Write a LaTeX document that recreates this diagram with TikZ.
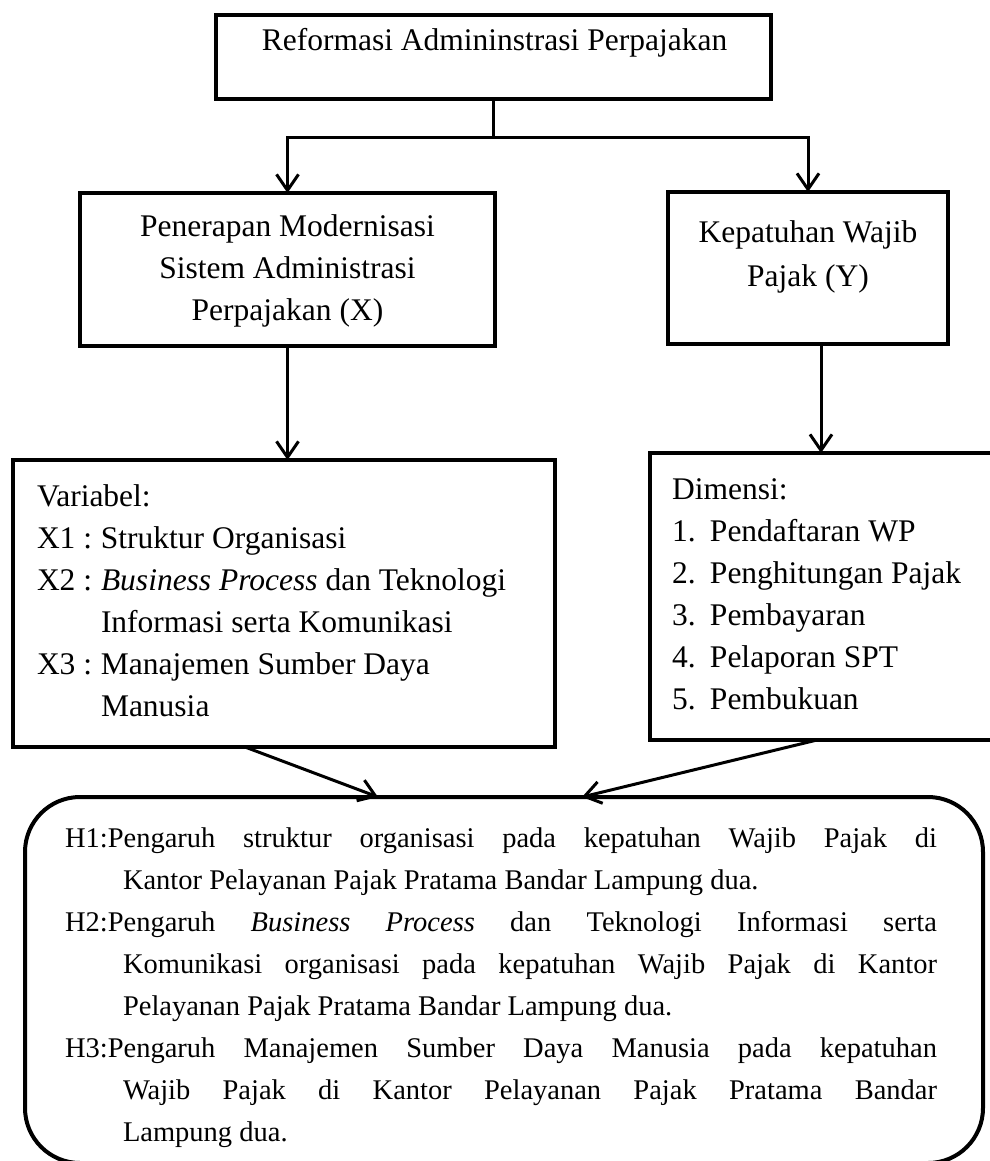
\documentclass[tikz,border=0pt]{standalone}
\usepackage{fontspec}
\setmainfont{Liberation Serif}
\usetikzlibrary{arrows.meta}
\begin{document}
\begin{tikzpicture}[x=1pt,y=-1pt,
  box/.style={draw, line width=4pt, inner sep=0pt, outer sep=0pt, rectangle},
  conn/.style={line width=3pt},
  arr/.style={line width=3pt, -{Straight Barb[length=16pt,width=22pt]}},
  txt/.style={inner sep=0pt, outer sep=0pt},
  fa/.style={font=\fontsize{31.5}{42}\selectfont},
  fb/.style={font=\fontsize{31.5}{42}\selectfont},
  fc/.style={font=\fontsize{31.5}{44}\selectfont},
  fd/.style={font=\fontsize{28.5}{42}\selectfont},
]
\useasboundingbox (0,0) rectangle (989,1161);
% boxes
\node[box, minimum width=555pt, minimum height=84pt] (top) at (493.5,57) {};
\node[box, minimum width=415pt, minimum height=153pt] (midL) at (287.5,269.5) {};
\node[box, minimum width=280pt, minimum height=152pt] (midR) at (808,268) {};
\node[box, minimum width=542pt, minimum height=287pt] (lowL) at (284,603.5) {};
\node[box, minimum width=350pt, minimum height=287pt] (lowR) at (825,596.5) {};
\node[box, rounded corners=55pt, minimum width=958pt, minimum height=366pt] (hyp) at (504,980) {};
% texts
\node[txt, fa, anchor=base] (topT) at (494.5,51) {Reformasi Admininstrasi Perpajakan};
\node[txt, fb, anchor=base] (midLT) at (287.5,236) {\parbox[t]{400pt}{\centering Penerapan Modernisasi\\Sistem Administrasi\\Perpajakan (X)}};
\node[txt, fc, anchor=base] (midRT) at (808,242) {\parbox[t]{270pt}{\centering Kepatuhan Wajib\\Pajak (Y)}};
\node[txt, fb, anchor=base west] (lowLT) at (37,506) {\parbox[t]{515pt}{Variabel:\\
\makebox[64pt][l]{X1 :}Struktur Organisasi\\
\makebox[64pt][l]{X2 :}\textit{Business Process} dan Teknologi\\
\makebox[64pt][l]{}Informasi serta Komunikasi\\
\makebox[64pt][l]{X3 :}Manajemen Sumber Daya\\
\makebox[64pt][l]{}Manusia}};
\node[txt, fb, anchor=base west] (lowRT) at (672,499) {\parbox[t]{320pt}{Dimensi:\\
\makebox[38pt][l]{1.}Pendaftaran WP\\
\makebox[38pt][l]{2.}Penghitungan Pajak\\
\makebox[38pt][l]{3.}Pembayaran\\
\makebox[38pt][l]{4.}Pelaporan SPT\\
\makebox[38pt][l]{5.}Pembukuan}};
\node[txt, fd, anchor=base west] (hypT) at (65,847) {\parbox[t]{872pt}{\hyphenpenalty=10000\exhyphenpenalty=10000\tolerance=10000\emergencystretch=20pt
\hangindent=58pt\hangafter=1 H1:Pengaruh struktur organisasi pada kepatuhan Wajib Pajak di\linebreak Kantor Pelayanan Pajak Pratama Bandar Lampung dua.\par
\hangindent=58pt\hangafter=1 H2:Pengaruh \textit{Business Process} dan Teknologi Informasi serta\linebreak Komunikasi organisasi pada kepatuhan Wajib Pajak di Kantor\linebreak Pelayanan Pajak Pratama Bandar Lampung dua.\par
\hangindent=58pt\hangafter=1 H3:Pengaruh Manajemen Sumber Daya Manusia pada kepatuhan\linebreak Wajib Pajak di Kantor Pelayanan Pajak Pratama Bandar\linebreak Lampung dua.\par}};
% connectors
\draw[conn] (top.south) -- ++(0,39) coordinate (split);
\draw[arr] (split) -| (midL.north);
\draw[arr] (split) -| (midR.north);
\draw[arr] (midL.south) -- (midL.south |- lowL.north);
\draw[arr] ([xshift=13pt]midR.south) -- ([xshift=13pt]midR.south |- lowR.north);
\draw[arr] ([xshift=-39pt]lowL.south) -- ([xshift=-126pt]hyp.north);
\draw[arr] ([xshift=-8pt]lowR.south) -- ([xshift=78pt]hyp.north);
\end{tikzpicture}
\end{document}
